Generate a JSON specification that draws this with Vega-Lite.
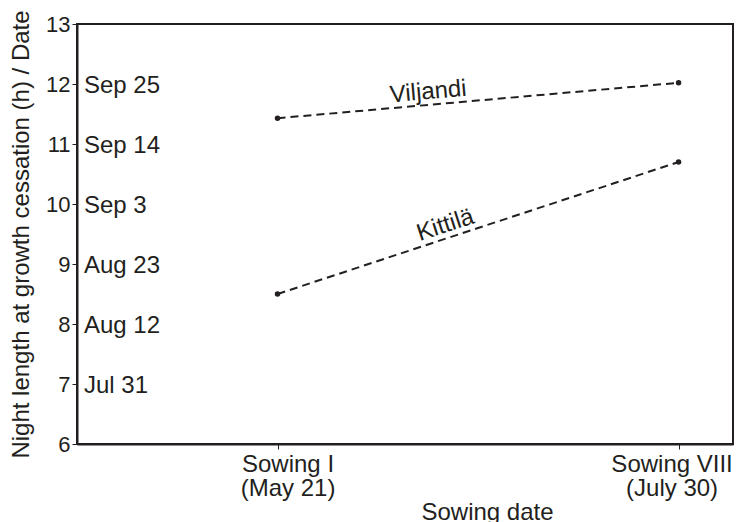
{
  "$schema": "https://vega.github.io/schema/vega-lite/v6.json",
  "width": 656,
  "height": 420,
  "autosize": "none",
  "padding": {"left": 77, "top": 24, "right": 3, "bottom": 78},
  "background": "white",
  "config": {
    "font": "Liberation Sans",
    "view": {"stroke": "#231f20", "strokeWidth": 2},
    "axis": {
      "grid": false,
      "domainColor": "#231f20",
      "domainWidth": 2,
      "tickColor": "#231f20",
      "tickWidth": 1,
      "tickSize": 5,
      "labelColor": "#231f20",
      "titleColor": "#231f20",
      "labelFont": "Liberation Sans",
      "titleFont": "Liberation Sans",
      "labelFontSize": 24,
      "titleFontSize": 24,
      "titleFontWeight": "normal"
    }
  },
  "datasets": {
    "points": [
      {"site": "Viljandi", "sowing": 1, "night": 11.43},
      {"site": "Viljandi", "sowing": 8, "night": 12.02},
      {"site": "Kittilä", "sowing": 1, "night": 8.5},
      {"site": "Kittilä", "sowing": 8, "night": 10.7}
    ],
    "dates": [
      {"night": 12, "date": "Sep 25"},
      {"night": 11, "date": "Sep 14"},
      {"night": 10, "date": "Sep 3"},
      {"night": 9, "date": "Aug 23"},
      {"night": 8, "date": "Aug 12"},
      {"night": 7, "date": "Jul 31"}
    ]
  },
  "layer": [
    {
      "data": {"name": "points"},
      "mark": {"type": "line", "color": "#231f20", "strokeWidth": 2, "strokeDash": [8, 5]},
      "encoding": {
        "x": {
          "field": "sowing", "type": "quantitative",
          "scale": {"domain": [-2.5, 8.95], "nice": false, "zero": false},
          "axis": {
            "values": [1, 8],
            "labelExpr": "datum.value == 1 ? ['Sowing I', '(May 21)'] : ['Sowing VIII', '(July 30)']",
            "labelOffset": {"condition": {"test": "datum.value == 8", "value": -7}, "value": 10},
            "labelPadding": 3,
            "labelLineHeight": 24,
            "labelBaseline": "top",
            "title": "Sowing date",
            "titleX": 410,
            "titlePadding": 0,
            "labelFlush": false,
            "labelOverlap": false,
            "labelBound": false
          }
        },
        "y": {
          "field": "night", "type": "quantitative",
          "scale": {"domain": [6, 13], "nice": false, "zero": false},
          "axis": {
            "values": [6, 7, 8, 9, 10, 11, 12, 13],
            "format": "d",
            "labelFontSize": 22,
            "labelPadding": 2,
            "title": "Night length at growth cessation (h) / Date",
            "titlePadding": 12
          }
        },
        "detail": {"field": "site"}
      }
    },
    {
      "data": {"name": "points"},
      "mark": {"type": "point", "filled": true, "color": "#231f20", "size": 30, "opacity": 1},
      "encoding": {
        "x": {"field": "sowing", "type": "quantitative"},
        "y": {"field": "night", "type": "quantitative"}
      }
    },
    {
      "data": {"name": "dates"},
      "mark": {"type": "text", "align": "left", "baseline": "middle", "dx": 7, "dy": 2, "fontSize": 24, "color": "#231f20"},
      "encoding": {
        "x": {"datum": -2.5, "type": "quantitative"},
        "y": {"field": "night", "type": "quantitative"},
        "text": {"field": "date"}
      }
    },
    {
      "data": {"values": [{"label": "Viljandi"}]},
      "mark": {"type": "text", "angle": -5, "baseline": "bottom", "dy": -1, "fontSize": 24, "color": "#231f20"},
      "encoding": {
        "x": {"datum": 3.65, "type": "quantitative"},
        "y": {"datum": 11.65, "type": "quantitative"},
        "text": {"field": "label"}
      }
    },
    {
      "data": {"values": [{"label": "Kittilä"}]},
      "mark": {"type": "text", "angle": -18, "baseline": "bottom", "dy": -1, "fontSize": 24, "color": "#231f20"},
      "encoding": {
        "x": {"datum": 4.0, "type": "quantitative"},
        "y": {"datum": 9.44, "type": "quantitative"},
        "text": {"field": "label"}
      }
    }
  ]
}
